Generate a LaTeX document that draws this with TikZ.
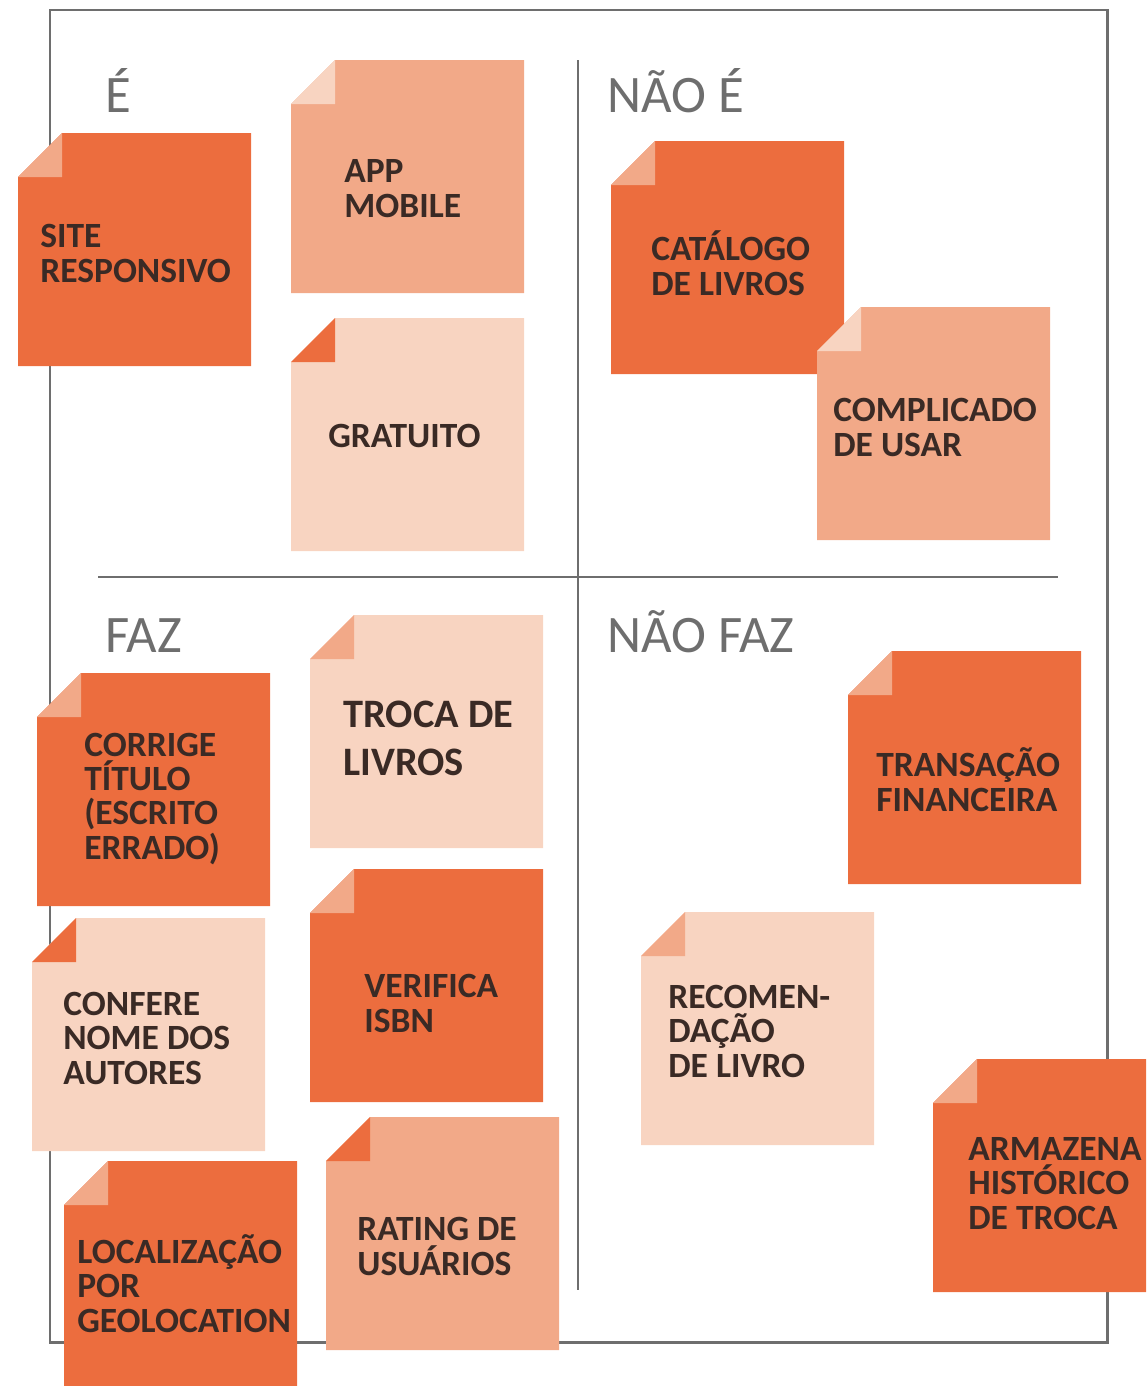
\documentclass[tikz,border=0pt]{standalone}
\usepackage{fontspec}
\setmainfont{Carlito}
\definecolor{hot}{HTML}{EC6D3E}
\definecolor{warm}{HTML}{F2A988}
\definecolor{pale}{HTML}{F8D4C1}
\definecolor{ink}{HTML}{3A2A25}
\definecolor{rule}{HTML}{6E6E6E}
\tikzset{
  head/.style={anchor=base west, inner sep=0, text=rule, font=\fontsize{30}{30}\selectfont},
  txt/.style={anchor=base west, inner sep=0, align=left, text=ink, font=\bfseries\fontsize{20.2}{19.5}\selectfont},
}

\begin{document}
\begin{tikzpicture}[x=0.02cm,y=-0.02cm]
\useasboundingbox (0,0) rectangle (1146,1386);
\clip (0,0) rectangle (1146,1386);

% sticky note: top left x, top left y, paper, folded corner
\def\postit#1#2#3#4{
\fill[#3] (#1+44,#2) -- (#1+233,#2) -- (#1+233,#2+233) -- (#1,#2+233) -- (#1,#2+44) -- cycle;
\fill[#4] (#1,#2+44) -- (#1+44,#2) -- (#1+44,#2+44) -- cycle;
}
%
% frame and cross
\draw[rule, line width=1.7pt] (50,10) rectangle (1107,1342);
\draw[rule, line width=1.4pt] (578,60) -- (578,1290);
\draw[rule, line width=1.4pt] (98,577) -- (1058,577);
%
\node[head] (e) at (105,112) {É};
\node[head] (naoe) at (607,112) {NÃO É};
\node[head] (faz) at (105,652) {FAZ};
\node[head] (naofaz) at (607,652) {NÃO FAZ};
%
% É  (text nodes sit on the baseline of their last line)
\postit{18}{133}{hot}{warm}
\node[txt] (site) at (40,282) {SITE\\RESPONSIVO};
\postit{291}{60}{warm}{pale}
\node[txt] (app) at (344,217) {APP\\MOBILE};
\postit{291}{318}{pale}{hot}
\node[txt] (gratis) at (328,447) {GRATUITO};
%
% NÃO É
\postit{611}{141}{hot}{warm}
\node[txt] (catalogo) at (651,295) {CATÁLOGO\\DE LIVROS};
\postit{817}{307}{warm}{pale}
\node[txt] (complicado) at (833,456) {COMPLICADO\\DE USAR};
%
% FAZ
\postit{310}{615}{pale}{warm}
\node[txt, font=\bfseries\fontsize{23}{27}\selectfont] (troca) at (343,775) {TROCA DE\\LIVROS};
\postit{37}{673}{hot}{warm}
\node[txt] (titulo) at (84,859) {CORRIGE\\TÍTULO\\(ESCRITO\\ERRADO)};
\postit{32}{918}{pale}{hot}
\node[txt] (autores) at (63,1084) {CONFERE\\NOME DOS\\AUTORES};
\postit{310}{869}{hot}{warm}
\node[txt] (isbn) at (364,1032) {VERIFICA\\ISBN};
\postit{64}{1161}{hot}{warm}
\node[txt] (geo) at (77,1332) {LOCALIZAÇÃO\\POR\\GEOLOCATION};
\postit{326}{1117}{warm}{hot}
\node[txt] (rating) at (357,1275) {RATING DE\\USUÁRIOS};
%
% NÃO FAZ
\postit{848}{651}{hot}{warm}
\node[txt] (transacao) at (876,811) {TRANSAÇÃO\\FINANCEIRA};
\postit{641}{912}{pale}{warm}
\node[txt] (recomenda) at (668,1077) {RECOMEN-\\DAÇÃO\\DE LIVRO};
\postit{933}{1059}{hot}{warm}
\node[txt] (historico) at (968,1229) {ARMAZENA\\HISTÓRICO\\DE TROCA};
\end{tikzpicture}
\end{document}
